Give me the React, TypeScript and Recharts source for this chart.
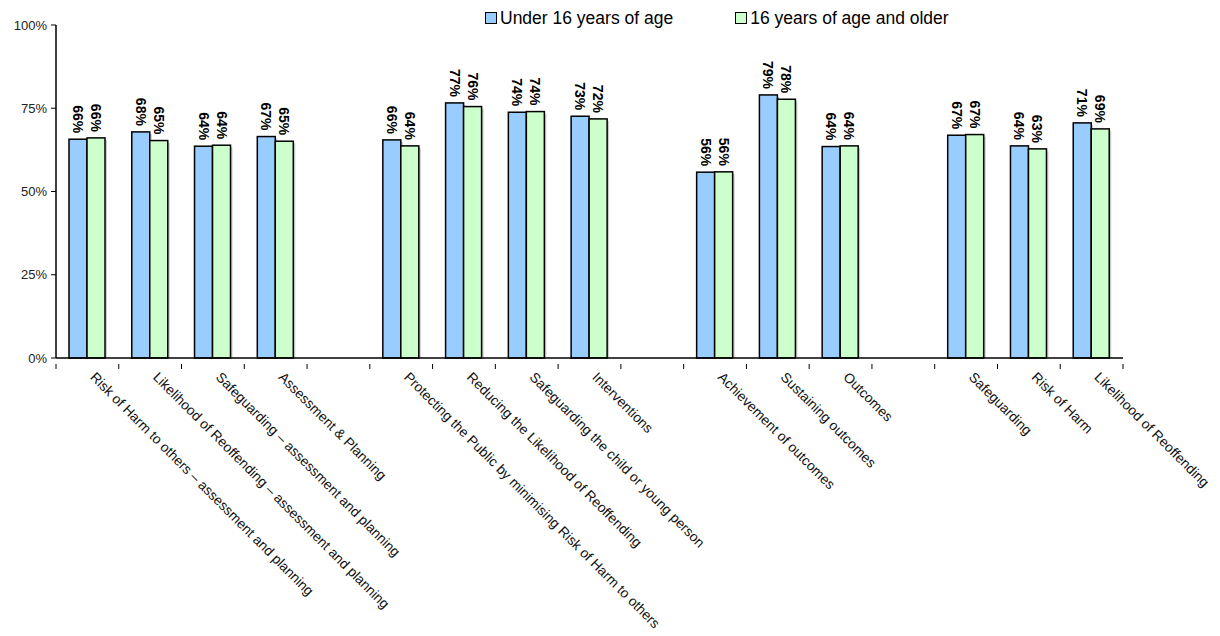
import React from "react";
import { BarChart, Bar, XAxis, YAxis, LabelList } from "recharts";

// empty strings are the spacer slots between the four groups
const categories = [
	"Risk of Harm to others – assessment and planning",
	"Likelihood of Reoffending – assessment and planning",
	"Safeguarding – assessment and planning",
	"Assessment & Planning",
	"",
	"Protecting the Public by minimising Risk of Harm to others",
	"Reducing the Likelihood of Reoffending",
	"Safeguarding the child or young person",
	"Interventions",
	"",
	"Achievement of outcomes",
	"Sustaining outcomes",
	"Outcomes",
	"",
	"Safeguarding",
	"Risk of Harm",
	"Likelihood of Reoffending",
];

const under16 = [
	65.7, 67.9, 63.6, 66.5, null, 65.5, 76.6, 73.8, 72.6, null, 55.8, 79.0, 63.5,
	null, 66.9, 63.7, 70.6,
];
const over16 = [
	66.1, 65.3, 63.9, 65.1, null, 63.7, 75.5, 74.0, 71.8, null, 55.9, 77.7, 63.7,
	null, 67.1, 62.8, 68.8,
];

const seriesNames = ["Under 16 years of age", "16 years of age and older"];
const seriesColors = ["#99CCFF", "#CCFFCC"];
const yTicks = [0, 25, 50, 75, 100];

const data = categories.map((name, i) => ({
	name,
	under16: under16[i],
	over16: over16[i],
}));

const FONT = "'Liberation Sans', Arial, sans-serif";
const CHART_W = 1220;
const CHART_H = 636;
const MARGIN = { top: 25, right: 97, bottom: 248, left: 0 };
const Y_WIDTH = 56;
const HALF_SLOT = (CHART_W - MARGIN.right - MARGIN.left - Y_WIDTH) / categories.length / 2;

const ShadowBar = (props: any) => {
	const { x, y, width, height, fill } = props;
	if (!height || height <= 0) return null;
	return (
		<g>
			<rect x={x + 2} y={y + 2} width={width} height={height - 2} fill="#999" opacity={0.5} />
			<rect x={x} y={y} width={width} height={height} fill={fill} stroke="#000" strokeWidth={1.5} />
		</g>
	);
};

const ValueLabel = (props: any) => {
	const { x, y, width, value } = props;
	if (value == null) return null;
	const cx = x + width / 2;
	const cy = y - 6;
	return (
		<text
			x={cx}
			y={cy}
			transform={`rotate(90 ${cx} ${cy})`}
			textAnchor="end"
			dominantBaseline="central"
			fontSize={14}
			fontWeight="bold"
			fontFamily={FONT}
			fill="#000"
		>
			{Math.round(value)}%
		</text>
	);
};

const CategoryTick = (props: any) => {
	const { x, y, payload, index } = props;
	const axisY = y - 2;
	const tx = x + 2;
	const ty = axisY + 14;
	return (
		<g>
			<line x1={x - HALF_SLOT} x2={x - HALF_SLOT} y1={axisY} y2={axisY + 5} stroke="#000" />
			{index === categories.length - 1 && (
				<line x1={x + HALF_SLOT} x2={x + HALF_SLOT} y1={axisY} y2={axisY + 5} stroke="#000" />
			)}
			<text
				x={tx}
				y={ty}
				transform={`rotate(45 ${tx} ${ty})`}
				textAnchor="start"
				fontSize={13.8}
				fontFamily={FONT}
				fill="#111"
			>
				{payload.value}
			</text>
		</g>
	);
};

export default function App() {
	return (
		<div style={{ position: "absolute", left: 0, top: 0, width: CHART_W, height: CHART_H, background: "#fff", fontFamily: FONT }}>
			<BarChart width={CHART_W} height={CHART_H} data={data} margin={MARGIN} barGap={0} barSize={18}>
				<XAxis
					dataKey="name"
					height={30}
					interval={0}
					tickLine={false}
					axisLine={{ stroke: "#000", strokeWidth: 1.5 }}
					tick={<CategoryTick />}
				/>
				<YAxis
					width={Y_WIDTH}
					domain={[0, 100]}
					ticks={yTicks}
					tickFormatter={(v) => `${v}%`}
					axisLine={{ stroke: "#000", strokeWidth: 1.5 }}
					tickLine={{ stroke: "#000" }}
					tickSize={5}
					tickMargin={4}
					tick={{ fontSize: 13, fill: "#222", fontFamily: FONT }}
				/>
				<Bar dataKey="under16" name={seriesNames[0]} fill={seriesColors[0]} shape={<ShadowBar />} isAnimationActive={false}>
					<LabelList dataKey="under16" content={<ValueLabel />} />
				</Bar>
				<Bar dataKey="over16" name={seriesNames[1]} fill={seriesColors[1]} shape={<ShadowBar />} isAnimationActive={false}>
					<LabelList dataKey="over16" content={<ValueLabel />} />
				</Bar>
			</BarChart>
			<div style={{ position: "absolute", top: 8, left: 485, display: "flex", fontSize: 17.5, color: "#000", lineHeight: "20px" }}>
				{seriesNames.map((n, i) => (
					<div key={n} style={{ display: "flex", alignItems: "center", marginRight: 62 }}>
						<span style={{ display: "inline-block", width: 10, height: 10, border: "1px solid #000", background: seriesColors[i], marginRight: 3 }} />
						<span>{n}</span>
					</div>
				))}
			</div>
		</div>
	);
}
